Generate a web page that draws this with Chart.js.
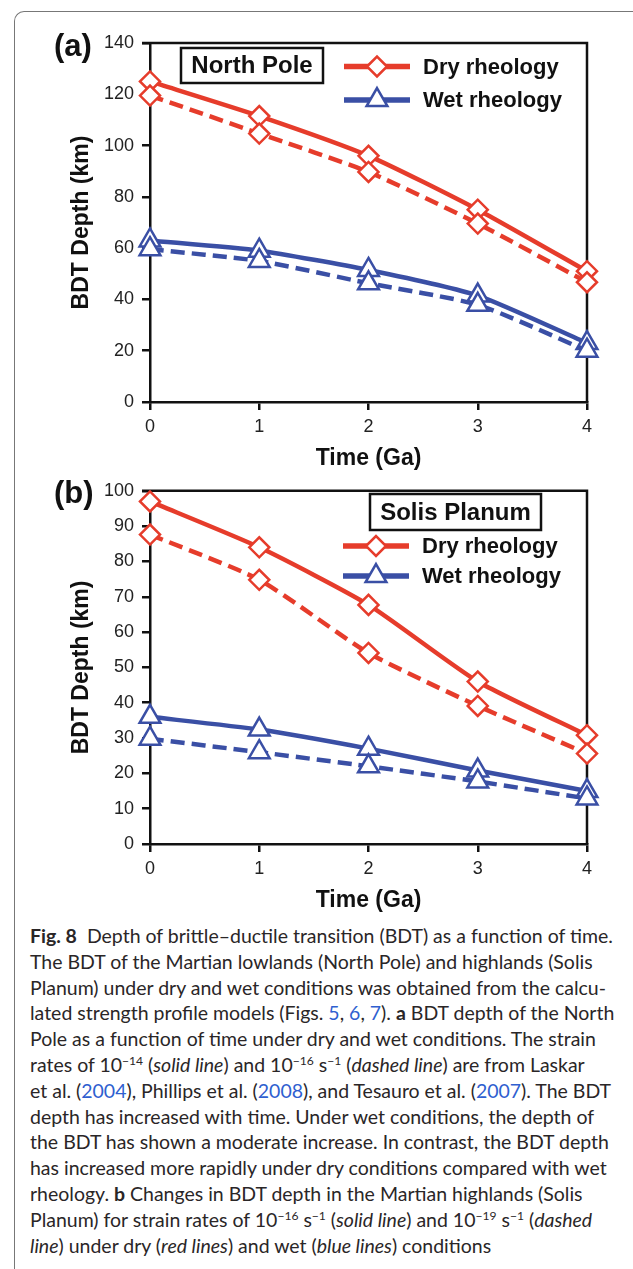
<!DOCTYPE html>
<html>
<head>
<meta charset="utf-8">
<script src="https://cdn.jsdelivr.net/npm/chart.js@4.4.1/dist/chart.umd.min.js"></script>
<style>
  html, body { margin: 0; padding: 0; background: #fff; }
  body { width: 633px; height: 1269px; position: relative; overflow: hidden; font-family: "Liberation Sans", Arial, sans-serif; }
  .frame { position: absolute; left: 14px; top: 11px; width: 640px; height: 1300px; border-left: 1px solid #777; border-top: 1px solid #777; border-top-left-radius: 10px; }
  .panel { position: absolute; left: 54px; font-weight: bold; font-size: 31px; line-height: 31px; color: #111; }
  #wrapA { position: absolute; left: 0; top: 0; width: 633px; height: 472px; }
  #wrapB { position: absolute; left: 0; top: 472px; width: 633px; height: 442px; }
  .caption { position: absolute; left: 30px; top: 923px; font-family: Lato, "Noto Sans", sans-serif; font-size: 16px; line-height: 25.8px; color: #2a2627; white-space: nowrap; }
  .caption a { color: #2f5fd0; text-decoration: none; }
  .caption sup { font-size: 0.62em; line-height: 0; vertical-align: 0.6em; }
</style>
</head>
<body>
<div class="frame"></div>
<div id="wrapA"><canvas id="chartA"></canvas></div>
<div id="wrapB"><canvas id="chartB"></canvas></div>
<div class="panel" style="top:30px">(a)</div>
<div class="panel" style="top:477px">(b)</div>

<div class="caption" id="caption">
  <div id="capFirst"><b>Fig. 8</b>&nbsp; Depth of brittle–ductile transition (BDT) as a function of time.</div>
  <div>The BDT of the Martian lowlands (North Pole) and highlands (Solis</div>
  <div>Planum) under dry and wet conditions was obtained from the calcu-</div>
  <div>lated strength profile models (Figs. <a>5</a>, <a>6</a>, <a>7</a>). <b>a</b> BDT depth of the North</div>
  <div>Pole as a function of time under dry and wet conditions. The strain</div>
  <div>rates of 10<sup>−14</sup> (<i>solid line</i>) and 10<sup>−16</sup> s<sup>−1</sup> (<i>dashed line</i>) are from Laskar</div>
  <div>et al. (<a>2004</a>), Phillips et al. (<a>2008</a>), and Tesauro et al. (<a>2007</a>). The BDT</div>
  <div>depth has increased with time. Under wet conditions, the depth of</div>
  <div>the BDT has shown a moderate increase. In contrast, the BDT depth</div>
  <div>has increased more rapidly under dry conditions compared with wet</div>
  <div>rheology. <b>b</b> Changes in BDT depth in the Martian highlands (Solis</div>
  <div>Planum) for strain rates of 10<sup>−16</sup> s<sup>−1</sup> (<i>solid line</i>) and 10<sup>−19</sup> s<sup>−1</sup> (<i>dashed</i></div>
  <div><i>line</i>) under dry (<i>red lines</i>) and wet (<i>blue lines</i>) conditions</div>
</div>

<script>
// ---- data ----
const timeGa = [0, 1, 2, 3, 4];

const northTicks = [0, 20, 40, 60, 80, 100, 120, 140];
const northDrySolid  = [125, 111.5, 96, 75, 51];
const northDryDashed = [119.5, 104.7, 89.7, 69.6, 46.7];
const northWetSolid  = [63, 59, 51.5, 41.5, 23];
const northWetDashed = [59.6, 55, 46.3, 37.9, 20];

const solisTicks = [0, 10, 20, 30, 40, 50, 60, 70, 80, 90, 100];
const solisDrySolid  = [97, 84, 67.7, 46, 30.8];
const solisDryDashed = [87.6, 74.8, 54.1, 39.1, 25.6];
const solisWetSolid  = [36, 32.4, 27, 20.8, 15];
const solisWetDashed = [29.8, 26, 22, 17.7, 12.9];

const seriesNames = ['Dry rheology', 'Wet rheology'];

// ---- styles ----
const RED = '#e63c2b';
const BLUE = '#3a4fa5';
const INK = '#111';
const DASH = [14, 7];

function pts(arr) {
  return timeGa.map((t, i) => ({ x: t, y: arr[i] }));
}

function ds(label, arr, color, dashed, style) {
  return {
    label: label,
    data: pts(arr),
    clip: false,
    borderColor: color,
    borderWidth: 4.5,
    borderDash: dashed ? DASH : [],
    tension: 0.2,
    pointStyle: style,
    pointRadius: style === 'triangle' ? 12 : 10,
    pointBorderWidth: 2.5,
    pointBorderColor: color,
    pointBackgroundColor: '#fff'
  };
}

// top and right frame of the plot
const plotBox = {
  id: 'plotBox',
  beforeDatasetsDraw(chart) {
    const { ctx, chartArea: a } = chart;
    ctx.save();
    ctx.strokeStyle = INK;
    ctx.lineWidth = 2.5;
    ctx.beginPath();
    ctx.moveTo(a.left - 8, a.top);
    ctx.lineTo(a.right, a.top);
    ctx.lineTo(a.right, a.bottom);
    ctx.stroke();
    ctx.restore();
  }
};

// boxed site label + legend rows
const rheoLegend = {
  id: 'rheoLegend',
  afterDraw(chart, args, o) {
    const ctx = chart.ctx;
    ctx.save();
    ctx.strokeStyle = INK;
    ctx.lineWidth = 2.5;
    ctx.strokeRect(o.box[0], o.box[1], o.box[2], o.box[3]);
    ctx.fillStyle = INK;
    ctx.font = 'bold 24px "Liberation Sans", Arial, sans-serif';
    ctx.textAlign = 'center';
    ctx.textBaseline = 'middle';
    ctx.fillText(o.site, o.box[0] + o.box[2] / 2, o.box[1] + o.box[3] / 2 + 1);

    const rows = [
      { name: seriesNames[0], color: RED, style: 'rectRot', r: 10, y: o.rows[0] },
      { name: seriesNames[1], color: BLUE, style: 'triangle', r: 12, y: o.rows[1] }
    ];
    rows.forEach(rw => {
      ctx.strokeStyle = rw.color;
      ctx.lineWidth = 5.5;
      ctx.beginPath();
      ctx.moveTo(o.lineX[0], rw.y);
      ctx.lineTo(o.lineX[1], rw.y);
      ctx.stroke();
      ctx.fillStyle = '#fff';
      ctx.strokeStyle = rw.color;
      ctx.lineWidth = 2.5;
      Chart.helpers.drawPoint(ctx, { pointStyle: rw.style, radius: rw.r, borderWidth: 2.5, rotation: 0 },
        (o.lineX[0] + o.lineX[1]) / 2, rw.y);
      ctx.fillStyle = INK;
      ctx.font = 'bold 22px "Liberation Sans", Arial, sans-serif';
      ctx.textAlign = 'left';
      ctx.textBaseline = 'middle';
      ctx.fillText(rw.name, o.textX, rw.y + 1);
    });
    ctx.restore();
  }
};

function makeChart(id, cfg) {
  const tickFont = { family: '"Liberation Sans", Arial, sans-serif', size: 18 };
  const titleFont = { family: '"Liberation Sans", Arial, sans-serif', size: 23, weight: 'bold' };
  return new Chart(document.getElementById(id), {
    type: 'line',
    data: {
      datasets: [
        ds(seriesNames[0] + ' dashed', cfg.dryDashed, RED, true, 'rectRot'),
        ds(seriesNames[0], cfg.drySolid, RED, false, 'rectRot'),
        ds(seriesNames[1] + ' dashed', cfg.wetDashed, BLUE, true, 'triangle'),
        ds(seriesNames[1], cfg.wetSolid, BLUE, false, 'triangle')
      ]
    },
    options: {
      responsive: true,
      maintainAspectRatio: false,
      animation: false,
      layout: { padding: { top: cfg.padTop, right: 46, left: 0, bottom: 0 } },
      plugins: {
        legend: { display: false },
        tooltip: { enabled: false },
        rheoLegend: cfg.legend
      },
      scales: {
        x: {
          type: 'linear',
          min: 0,
          max: 4,
          afterBuildTicks: s => { s.ticks = timeGa.map(v => ({ value: v })); },
          afterFit: s => { s.height = cfg.xAxisH; },
          ticks: { color: '#222', font: tickFont, padding: 6 },
          grid: { drawOnChartArea: false, tickLength: 8, color: INK, lineWidth: 2.5 },
          border: { color: INK, width: 2.5 },
          title: { display: true, text: 'Time (Ga)', color: INK, font: titleFont, padding: { top: 0, bottom: 0 } }
        },
        y: {
          min: 0,
          max: cfg.ticks[cfg.ticks.length - 1],
          afterBuildTicks: s => { s.ticks = cfg.ticks.map(v => ({ value: v })); },
          afterFit: s => { s.width = 150; },
          ticks: { color: '#222', font: tickFont, padding: 8 },
          grid: { drawOnChartArea: false, tickLength: 8, color: INK, lineWidth: 2.5 },
          border: { color: INK, width: 2.5 },
          title: { display: true, text: 'BDT Depth (km)', color: INK, font: titleFont, padding: { top: 68, bottom: 0 } }
        }
      }
    },
    plugins: [plotBox, rheoLegend]
  });
}

makeChart('chartA', {
  ticks: northTicks,
  drySolid: northDrySolid, dryDashed: northDryDashed,
  wetSolid: northWetSolid, wetDashed: northWetDashed,
  padTop: 43, xAxisH: 70,
  legend: { site: 'North Pole', box: [181, 48, 142, 35], rows: [66.5, 100], lineX: [344, 410], textX: 423 }
});

makeChart('chartB', {
  ticks: solisTicks,
  drySolid: solisDrySolid, dryDashed: solisDryDashed,
  wetSolid: solisWetSolid, wetDashed: solisWetDashed,
  padTop: 15, xAxisH: 70,
  legend: { site: 'Solis Planum', box: [370, 22, 171, 36], rows: [74, 104], lineX: [343, 409], textX: 422 }
});

// fit caption width to the reference line length
const cap = document.getElementById('caption');
const first = document.getElementById('capFirst');
const span = document.createElement('span');
span.innerHTML = first.innerHTML;
first.innerHTML = '';
first.appendChild(span);
const natural = span.getBoundingClientRect().width;
cap.style.fontSize = (16 * 583 / natural).toFixed(2) + 'px';
</script>
</body>
</html>
